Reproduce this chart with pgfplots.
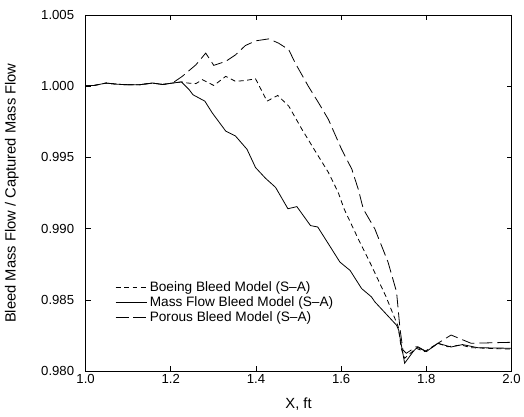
\documentclass[border=0pt]{standalone}
\usepackage{pgfplots}
\pgfplotsset{compat=1.18}
\usepackage{fontspec}
\setmainfont{Liberation Sans}
\newcommand\tickfont{\fontsize{13.2}{15}\selectfont}
\newcommand\labelfont{\fontsize{14.8}{17}\selectfont}
\newcommand\legendfont{\fontsize{13.7}{16}\selectfont}
\pgfplotsset{
  longline/.style={legend image code/.code={\draw[##1] (0pt,0pt) -- (32pt,0pt);}},
}

\pgfplotstableread{
x y
1.000 1.00003
1.020 1.00005
1.048 1.00022
1.070 1.00015
1.090 1.00011
1.126 1.00010
1.157 1.00022
1.181 1.00012
1.204 1.00022
1.225 1.00030
1.243 0.99976
1.252 0.99940
1.280 0.99895
1.297 0.99814
1.329 0.99685
1.352 0.99650
1.379 0.99557
1.399 0.99429
1.422 0.99355
1.446 0.99290
1.475 0.99140
1.496 0.99155
1.528 0.99022
1.545 0.99012
1.570 0.98894
1.597 0.98766
1.621 0.98707
1.648 0.98580
1.671 0.98522
1.679 0.98487
1.730 0.98323
1.735 0.98288
1.749 0.98056
1.769 0.98138
1.780 0.98172
1.800 0.98138
1.827 0.98196
1.858 0.98170
1.885 0.98187
1.921 0.98165
2.000 0.98161
}\massflow

\pgfplotstableread{
x y
1.000 1.00003
1.020 1.00005
1.048 1.00022
1.070 1.00015
1.090 1.00011
1.126 1.00010
1.157 1.00022
1.181 1.00012
1.204 1.00022
1.225 1.00030
1.240 1.00022
1.259 1.00018
1.274 1.00046
1.301 1.00005
1.329 1.00069
1.352 1.00034
1.375 1.00040
1.399 1.00052
1.426 0.99895
1.451 0.99935
1.477 0.99860
1.508 0.99697
1.539 0.99545
1.570 0.99395
1.593 0.99255
1.607 0.99138
1.640 0.98929
1.671 0.98742
1.705 0.98525
1.734 0.98312
1.741 0.98161
1.749 0.98091
1.776 0.98161
1.796 0.98138
1.827 0.98196
1.850 0.98172
1.882 0.98184
1.905 0.98165
2.000 0.98155
}\boeing

\pgfplotstableread{
x y
1.000 1.00003
1.020 1.00005
1.048 1.00022
1.070 1.00015
1.090 1.00011
1.126 1.00010
1.157 1.00022
1.181 1.00012
1.204 1.00022
1.227 1.00069
1.259 1.00150
1.282 1.00232
1.301 1.00146
1.329 1.00174
1.352 1.00220
1.375 1.00285
1.399 1.00318
1.430 1.00332
1.453 1.00302
1.477 1.00256
1.492 1.00163
1.523 0.99999
1.547 0.99883
1.570 0.99767
1.601 0.99557
1.625 0.99418
1.640 0.99278
1.652 0.99138
1.679 0.98999
1.710 0.98766
1.730 0.98557
1.738 0.98300
1.745 0.98149
1.753 0.98126
1.776 0.98172
1.800 0.98138
1.827 0.98196
1.858 0.98254
1.905 0.98196
2.000 0.98203
}\porous

\begin{document}
\begin{tikzpicture}
\begin{axis}[
  name=ax,
  scale only axis,
  width=428pt, height=358pt,
  xmin=1, xmax=2, ymin=0.980, ymax=1.005,
  xtick={1.0,1.2,1.4,1.6,1.8,2.0},
  ytick={0.980,0.985,0.990,0.995,1.000,1.005},
  tick align=inside,
  major tick length=5pt,
  tick style={black, line width=0.6pt},
  axis line style={black, line width=0.7pt},
  tick label style={font=\tickfont},
  /pgf/number format/assume math mode=true,
  xticklabel style={/pgf/number format/.cd, fixed, fixed zerofill, precision=1},
  yticklabel style={/pgf/number format/.cd, fixed, fixed zerofill, precision=3},
  scaled y ticks=false,
  yticklabel shift=8pt,
  xlabel={X, ft},
  ylabel={Bleed Mass Flow / Captured Mass Flow},
  every axis x label/.style={at={(axis description cs:0.5,0)}, yshift=-33pt, anchor=center, font=\labelfont},
  every axis y label/.style={at={(axis description cs:0,0.5)}, xshift=-74pt, rotate=90, anchor=center, font=\labelfont},
  legend cell align=left,
  legend style={draw=none, fill=none, font=\legendfont,
    at={(axis cs:1.062,0.9866)}, anchor=north west,
    row sep=0pt,
    /tikz/every even column/.append style={column sep=4pt}},
]
\addplot[black, line width=0.8pt, dash pattern=on 5pt off 3.5pt, longline] table {\boeing};
\addlegendentry{Boeing Bleed Model (S–A)}
\addplot[black, line width=0.8pt, longline] table {\massflow};
\addlegendentry{Mass Flow Bleed Model (S–A)}
\addplot[black, line width=0.8pt, dash pattern=on 13pt off 5pt, longline] table {\porous};
\addlegendentry{Porous Bleed Model (S–A)}
\end{axis}
\path (ax.south west) ++(-86pt,-45pt) coordinate (bl);
\path (ax.north east) ++(10pt,15pt) coordinate (tr);
\useasboundingbox (bl) rectangle (tr);
\end{tikzpicture}
\end{document}
